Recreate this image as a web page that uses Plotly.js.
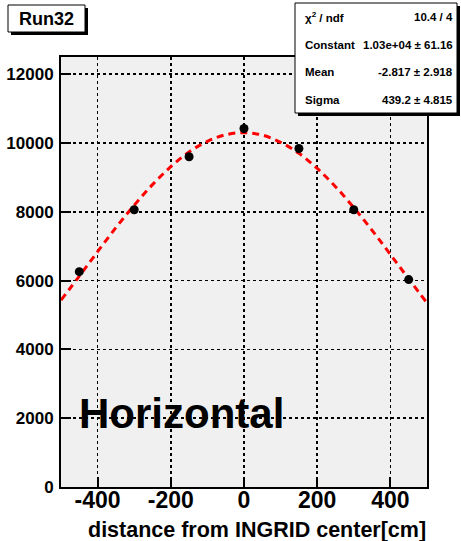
<!DOCTYPE html>
<html>
<head>
<meta charset="utf-8">
<script src="https://cdn.plot.ly/plotly-3.0.1.min.js"></script>
<style>html,body{margin:0;padding:0;background:#fff;}#chart{width:461px;height:541px;}</style>
</head>
<body>
<div id="chart"></div>
<script>
// Data points (distance from INGRID center [cm], counts)
const pointX = [-450, -300, -150, 0, 150, 300, 450];
const pointY = [6260, 8060, 9600, 10420, 9840, 8060, 6030];

// Gaussian fit curve
const fitX = [-500, -450, -400, -350, -300, -250, -200, -150, -100, -50, 0, 50, 100, 150, 200, 250, 300, 350, 400, 450, 500];
const fitY = [5430, 6130, 6840, 7540, 8190, 8790, 9310, 9740, 10050, 10240, 10300, 10230, 10020, 9700, 9260, 8730, 8120, 7460, 6760, 6050, 5350];

const xTicks = [-400, -200, 0, 200, 400];
const yTicks = [0, 2000, 4000, 6000, 8000, 10000, 12000];

const statLabels = ["χ<sup>2</sup> / ndf", "Constant", "Mean", "Sigma"];
const statValues = ["10.4 / 4", "1.03e+04 ± 61.16", "-2.817 ± 2.918", "439.2 ± 4.815"];

const runLabel = "Run32";
const panelLabel = "Horizontal";
const xTitle = "distance from INGRID center[cm]";

// layout geometry (pixels)
const W = 461, H = 541;
const L = 61, R = 427, T = 57, B = 487;
const px = x => (x - L) / (R - L);
const py = y => (B - y) / (B - T);

const FONT = "Liberation Sans, Arial, Helvetica, sans-serif";

const traces = [
  {
    x: fitX, y: fitY, type: "scatter", mode: "lines",
    line: {color: "#ff0000", width: 3, dash: "7px,5px", shape: "spline"},
    hoverinfo: "skip", showlegend: false
  },
  {
    x: pointX, y: pointY, type: "scatter", mode: "markers",
    marker: {color: "#000", size: 9},
    showlegend: false
  }
];

const shapes = [
  // Run32 box with shadow
  {type: "rect", xref: "paper", yref: "paper", x0: px(11), x1: px(88), y0: py(35), y1: py(8),
   fillcolor: "#000", line: {width: 0}, layer: "above"},
  {type: "rect", xref: "paper", yref: "paper", x0: px(8), x1: px(85), y0: py(32), y1: py(5),
   fillcolor: "#fff", line: {color: "#000", width: 1}, layer: "above"},
  // stats box with shadow
  {type: "rect", xref: "paper", yref: "paper", x0: px(298), x1: px(460), y0: py(116), y1: py(6),
   fillcolor: "#000", line: {width: 0}, layer: "above"},
  {type: "rect", xref: "paper", yref: "paper", x0: px(295), x1: px(457), y0: py(113), y1: py(3),
   fillcolor: "#fff", line: {color: "#000", width: 1}, layer: "above"}
];

const annotations = [
  {xref: "paper", yref: "paper", x: px(46.5), y: py(19), xanchor: "center", yanchor: "middle",
   text: "<b>" + runLabel + "</b>", showarrow: false, font: {family: FONT, size: 18, color: "#000"}},
  {xref: "paper", yref: "paper", x: px(77), y: py(413), xanchor: "left", yanchor: "middle",
   text: "<b>" + panelLabel + "</b>", showarrow: false, font: {family: FONT, size: 42, color: "#000"}},
  {xref: "paper", yref: "paper", x: px(428), y: py(530), xanchor: "right", yanchor: "middle",
   text: "<b>" + xTitle + "</b>", showarrow: false, font: {family: FONT, size: 21.5, color: "#000"}}
];
const rowY = [17, 45, 72, 100];
for (let i = 0; i < statLabels.length; i++) {
  annotations.push({xref: "paper", yref: "paper", x: px(303), y: py(rowY[i]), xanchor: "left", yanchor: "middle",
    text: "<b>" + statLabels[i] + "</b>", showarrow: false, font: {family: FONT, size: 11.5, color: "#000"}});
  annotations.push({xref: "paper", yref: "paper", x: px(455), y: py(rowY[i]), xanchor: "right", yanchor: "middle",
    text: "<b>" + statValues[i] + "</b>", showarrow: false, font: {family: FONT, size: 11.5, color: "#000"}});
}

const layout = {
  width: W, height: H,
  margin: {l: L, r: W - R, t: T, b: H - B, pad: 0},
  paper_bgcolor: "#fff",
  plot_bgcolor: "#f0f0f0",
  showlegend: false,
  xaxis: {
    range: [-500, 500], tickvals: xTicks, ticktext: xTicks.map(String),
    ticks: "inside", ticklen: 10, tickwidth: 2, tickcolor: "#000",
    showgrid: true, gridcolor: "#000", gridwidth: 1.5, griddash: "dot",
    zeroline: false, showline: true, linecolor: "#000", linewidth: 2, mirror: true,
    tickfont: {family: FONT, size: 23, color: "#000", weight: "bold"},
    ticklabelstandoff: -9
  },
  yaxis: {
    range: [0, 12500], tickvals: yTicks, ticktext: yTicks.map(String),
    ticks: "inside", ticklen: 10, tickwidth: 2, tickcolor: "#000",
    showgrid: true, gridcolor: "#000", gridwidth: 1.5, griddash: "dot",
    zeroline: false, showline: true, linecolor: "#000", linewidth: 2, mirror: true,
    tickfont: {family: FONT, size: 17, color: "#000", weight: "bold"},
    ticklabelstandoff: 2
  },
  shapes: shapes,
  annotations: annotations
};

Plotly.newPlot("chart", traces, layout, {staticPlot: true, displayModeBar: false});
</script>
</body>
</html>
